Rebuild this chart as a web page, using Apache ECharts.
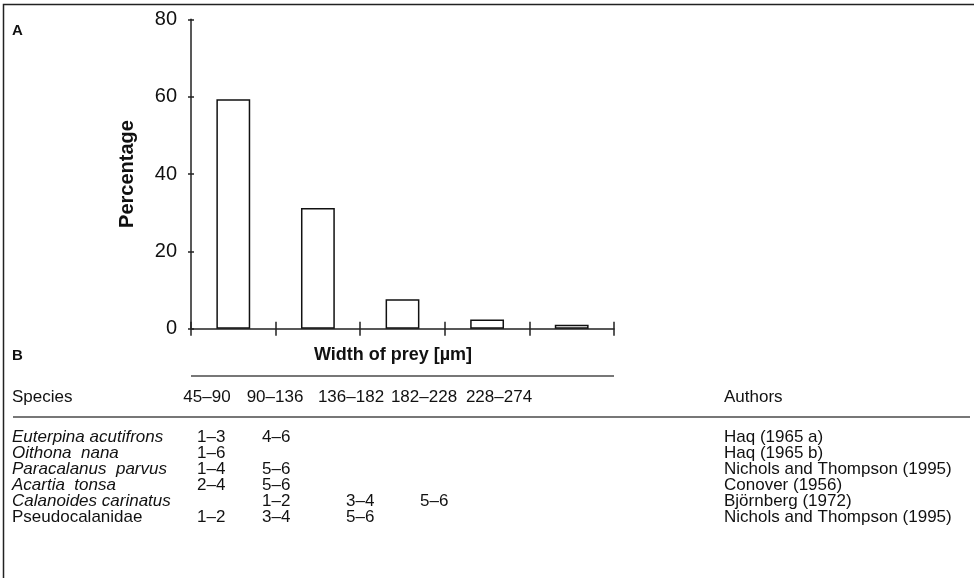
<!DOCTYPE html>
<html>
<head>
<meta charset="utf-8">
<script src="https://cdn.jsdelivr.net/npm/echarts@6/dist/echarts.min.js"></script>
<style>
  html, body { margin: 0; padding: 0; background: #fff; }
  #chart { width: 974px; height: 578px; }
</style>
</head>
<body>
<div id="chart"></div>
<script>
// Panel A: share of prey by width class
const widthClasses = ['45–90', '90–136', '136–182', '182–228', '228–274'];
const percentages = [59.3, 31.2, 7.6, 2.4, 1.0];
const yTicks = [0, 20, 40, 60, 80];

// Panel B: copepodite stages eaten per width class
const species = ['Euterpina acutifrons', 'Oithona  nana', 'Paracalanus  parvus', 'Acartia  tonsa', 'Calanoides carinatus', 'Pseudocalanidae'];
const speciesItalic = [true, true, true, true, true, false];
const stageRanges = [
  ['1–3', '4–6', '', '', ''],
  ['1–6', '', '', '', ''],
  ['1–4', '5–6', '', '', ''],
  ['2–4', '5–6', '', '', ''],
  ['', '1–2', '3–4', '5–6', ''],
  ['1–2', '3–4', '5–6', '', '']
];
const authors = ['Haq (1965 a)', 'Haq (1965 b)', 'Nichols and Thompson (1995)', 'Conover (1956)', 'Björnberg (1972)', 'Nichols and Thompson (1995)'];

const FONT = 'Liberation Sans, Arial, Helvetica, sans-serif';
const INK = '#111';

const chart = echarts.init(document.getElementById('chart'), null, { renderer: 'canvas' });

// table layout
const headerY = 397;
const rowY0 = 437;
const rowStep = 16;
const headerCenters = [207, 275, 351, 424, 499];
const cellLeft = [197, 262, 346, 420, 494];
const authorsX = 724;
const tableFont = 17;

const graphics = [];

// outer frame (right and bottom edges fall outside the page)
graphics.push({
  type: 'rect', shape: { x: 3.5, y: 4.5, width: 1000, height: 600 },
  style: { fill: 'none', stroke: '#222', lineWidth: 1.5 }, silent: true
});

function txt(x, y, text, opts) {
  return {
    type: 'text', x: x, y: y, silent: true,
    style: Object.assign({
      text: text, fill: INK, fontFamily: FONT, fontSize: tableFont,
      align: 'left', verticalAlign: 'middle'
    }, opts || {})
  };
}

graphics.push(txt(12, 31, 'A', { fontWeight: 'bold', fontSize: 15 }));
graphics.push(txt(12, 356, 'B', { fontWeight: 'bold', fontSize: 15 }));
graphics.push(Object.assign(txt(127, 174, 'Percentage', { fontWeight: 'bold', fontSize: 20, align: 'center' }), { rotation: Math.PI / 2 }));
graphics.push(txt(393, 355, 'Width of prey [µm]', { fontWeight: 'bold', fontSize: 18, align: 'center' }));

// rule below the axis title and below the header row
graphics.push({ type: 'line', silent: true, shape: { x1: 191, y1: 376, x2: 614, y2: 376 }, style: { stroke: '#777', lineWidth: 2 } });
graphics.push({ type: 'line', silent: true, shape: { x1: 13, y1: 417, x2: 970, y2: 417 }, style: { stroke: '#777', lineWidth: 2 } });

// header row
graphics.push(txt(12, headerY, 'Species'));
widthClasses.forEach(function (w, i) {
  graphics.push(txt(headerCenters[i], headerY, w, { align: 'center' }));
});
graphics.push(txt(authorsX, headerY, 'Authors'));

// body rows
species.forEach(function (s, r) {
  const y = rowY0 + r * rowStep;
  graphics.push(txt(12, y, s, { fontStyle: speciesItalic[r] ? 'italic' : 'normal' }));
  stageRanges[r].forEach(function (v, c) {
    if (v) graphics.push(txt(cellLeft[c], y, v));
  });
  graphics.push(txt(authorsX, y, authors[r]));
});

const option = {
  backgroundColor: '#fff',
  animation: false,
  grid: { left: 191, right: 360, top: 19.3, bottom: 249.3, containLabel: false },
  xAxis: [
    {
      type: 'category', data: widthClasses, position: 'bottom',
      axisLine: { show: true, lineStyle: { color: '#222', width: 1.5 } },
      axisTick: { show: true, inside: false, length: 7, lineStyle: { color: '#222', width: 1.5 } },
      axisLabel: { show: false }, splitLine: { show: false }
    },
    {
      type: 'category', data: widthClasses, position: 'bottom',
      axisLine: { show: false },
      axisTick: { show: true, inside: true, length: 7, lineStyle: { color: '#222', width: 1.5 } },
      axisLabel: { show: false }, splitLine: { show: false }
    }
  ],
  yAxis: [
    {
      type: 'value', min: yTicks[0], max: yTicks[yTicks.length - 1], interval: yTicks[1] - yTicks[0],
      position: 'left',
      axisLine: { show: true, lineStyle: { color: '#222', width: 1.5 } },
      axisTick: { show: true, inside: false, length: 3, lineStyle: { color: '#222', width: 1.5 } },
      axisLabel: { show: true, color: INK, fontFamily: FONT, fontSize: 20, margin: 14 },
      splitLine: { show: false }
    },
    {
      type: 'value', min: yTicks[0], max: yTicks[yTicks.length - 1], interval: yTicks[1] - yTicks[0],
      position: 'left', offset: 0,
      axisLine: { show: false },
      axisTick: { show: true, inside: true, length: 3, lineStyle: { color: '#222', width: 1.5 } },
      axisLabel: { show: false },
      splitLine: { show: false }
    }
  ],
  series: [{
    type: 'bar',
    data: percentages,
    barWidth: '40%',
    itemStyle: { color: '#fff', borderColor: '#111', borderWidth: 1.5 },
    silent: true
  }],
  graphic: graphics
};

chart.setOption(option);
</script>
</body>
</html>
